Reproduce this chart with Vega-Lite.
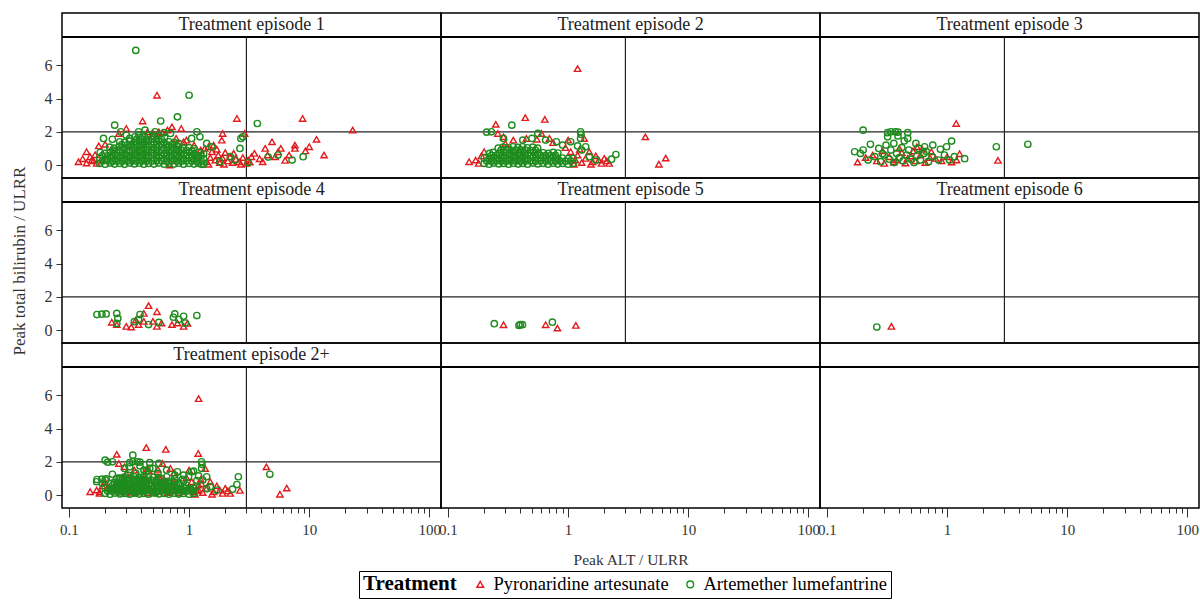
{
"$schema": "https://vega.github.io/schema/vega-lite/v6.json",
"padding": {"left": 10, "top": 12, "right": 2, "bottom": 2},
"data": {"values": [
{"a":"1","lab":"Treatment episode 1"},{"a":"2","lab":"Treatment episode 2"},{"a":"3","lab":"Treatment episode 3"},{"a":"4","lab":"Treatment episode 4"},{"a":"5","lab":"Treatment episode 5"},{"a":"6","lab":"Treatment episode 6"},{"a":"2+","lab":"Treatment episode 2+"},{"a":"b1","lab":""},{"a":"b2","lab":""},
{"t":"PA","a":"1","x":0.12,"y":0.2},{"t":"PA","a":"1","x":0.13,"y":0.38},{"t":"PA","a":"1","x":0.14,"y":0.12},{"t":"PA","a":"1","x":0.15,"y":0.5},{"t":"PA","a":"1","x":0.16,"y":0.25},{"t":"PA","a":"1","x":0.14,"y":0.8},{"t":"PA","a":"1","x":0.17,"y":0.1},{"t":"PA","a":"1","x":0.165,"y":0.62},{"t":"PA","a":"1","x":0.177,"y":1.15},{"t":"PA","a":"1","x":0.2,"y":1.25},{"t":"PA","a":"1","x":0.19,"y":0.3},{"t":"PA","a":"1","x":0.155,"y":0.3},
{"t":"PA","a":"1","x":1.4,"y":0.2},{"t":"PA","a":"1","x":1.5,"y":0.45},{"t":"PA","a":"1","x":1.55,"y":0.8},{"t":"PA","a":"1","x":1.65,"y":0.3},{"t":"PA","a":"1","x":1.75,"y":0.6},{"t":"PA","a":"1","x":1.8,"y":0.15},{"t":"PA","a":"1","x":1.9,"y":0.42},{"t":"PA","a":"1","x":2.0,"y":0.75},{"t":"PA","a":"1","x":2.1,"y":0.25},{"t":"PA","a":"1","x":2.2,"y":0.5},{"t":"PA","a":"1","x":2.3,"y":0.15},{"t":"PA","a":"1","x":2.45,"y":0.35},{"t":"PA","a":"1","x":2.6,"y":0.2},{"t":"PA","a":"1","x":2.8,"y":0.45},{"t":"PA","a":"1","x":3.0,"y":0.1},{"t":"PA","a":"1","x":1.25,"y":0.9},{"t":"PA","a":"1","x":1.35,"y":1.0},{"t":"PA","a":"1","x":1.45,"y":1.1},{"t":"PA","a":"1","x":1.6,"y":1.2},{"t":"PA","a":"1","x":1.7,"y":0.95},{"t":"PA","a":"1","x":1.45,"y":0.05},{"t":"PA","a":"1","x":1.95,"y":0.05},{"t":"PA","a":"1","x":2.35,"y":0.7},{"t":"PA","a":"1","x":2.7,"y":0.05},{"t":"PA","a":"1","x":3.1,"y":0.3},
{"t":"PA","a":"1","x":0.72,"y":2.3},{"t":"PA","a":"1","x":0.86,"y":2.2},{"t":"PA","a":"1","x":0.41,"y":2.65},{"t":"PA","a":"1","x":0.3,"y":2.2},{"t":"PA","a":"1","x":0.54,"y":4.2},{"t":"PA","a":"1","x":2.5,"y":2.8},{"t":"PA","a":"1","x":1.9,"y":1.9},{"t":"PA","a":"1","x":1.87,"y":1.5},{"t":"PA","a":"1","x":2.9,"y":1.9},{"t":"PA","a":"1","x":0.69,"y":0.0},{"t":"PA","a":"1","x":0.6,"y":1.95},{"t":"PA","a":"1","x":0.5,"y":1.9},{"t":"PA","a":"1","x":0.26,"y":1.9},{"t":"PA","a":"1","x":0.78,"y":1.6},{"t":"PA","a":"1","x":0.95,"y":1.5},{"t":"PA","a":"1","x":1.1,"y":1.2},{"t":"PA","a":"1","x":0.9,"y":1.4},{"t":"PA","a":"1","x":0.45,"y":2.0},{"t":"PA","a":"1","x":0.66,"y":2.1},{"t":"PA","a":"1","x":0.56,"y":2.0},
{"t":"PA","a":"1","x":23,"y":2.1},{"t":"PA","a":"1","x":8.8,"y":2.8},{"t":"PA","a":"1","x":11.5,"y":1.55},{"t":"PA","a":"1","x":13.3,"y":0.6},{"t":"PA","a":"1","x":7.6,"y":1.2},{"t":"PA","a":"1","x":7.6,"y":1.0},{"t":"PA","a":"1","x":6.3,"y":0.28},{"t":"PA","a":"1","x":4.9,"y":1.4},{"t":"PA","a":"1","x":5.8,"y":1.0},{"t":"PA","a":"1","x":4.3,"y":1.0},{"t":"PA","a":"1","x":4.5,"y":0.6},{"t":"PA","a":"1","x":5.2,"y":0.5},{"t":"PA","a":"1","x":3.86,"y":0.38},{"t":"PA","a":"1","x":3.2,"y":0.18},{"t":"PA","a":"1","x":3.5,"y":0.7},{"t":"PA","a":"1","x":6.8,"y":0.6},{"t":"PA","a":"1","x":10,"y":1.1},{"t":"PA","a":"1","x":3.3,"y":0.5},{"t":"PA","a":"1","x":4.1,"y":0.2},{"t":"PA","a":"1","x":5.5,"y":0.8},{"t":"PA","a":"1","x":9.3,"y":0.85},
{"t":"AL","a":"1","x":0.36,"y":6.9},{"t":"AL","a":"1","x":1.0,"y":4.2},{"t":"AL","a":"1","x":3.7,"y":2.5},{"t":"AL","a":"1","x":8.9,"y":0.5},{"t":"AL","a":"1","x":7.2,"y":0.3},{"t":"AL","a":"1","x":4.56,"y":0.48},{"t":"AL","a":"1","x":2.65,"y":1.0},{"t":"AL","a":"1","x":2.7,"y":1.6},{"t":"AL","a":"1","x":1.16,"y":2.0},{"t":"AL","a":"1","x":1.23,"y":1.7},{"t":"AL","a":"1","x":0.8,"y":2.9},{"t":"AL","a":"1","x":0.58,"y":2.65},{"t":"AL","a":"1","x":0.24,"y":2.4},{"t":"AL","a":"1","x":0.27,"y":2.0},{"t":"AL","a":"1","x":0.194,"y":1.6},{"t":"AL","a":"1","x":0.23,"y":1.55},{"t":"AL","a":"1","x":0.32,"y":1.6},{"t":"AL","a":"1","x":0.43,"y":2.1},{"t":"AL","a":"1","x":0.52,"y":2.0},{"t":"AL","a":"1","x":1.54,"y":1.09},{"t":"AL","a":"1","x":1.27,"y":0.04},{"t":"AL","a":"1","x":2.2,"y":0.5},{"t":"AL","a":"1","x":2.4,"y":0.3},{"t":"AL","a":"1","x":1.8,"y":0.2},{"t":"AL","a":"1","x":3.1,"y":0.15},{"t":"AL","a":"1","x":1.4,"y":1.3},{"t":"AL","a":"1","x":0.7,"y":1.9},{"t":"AL","a":"1","x":0.3,"y":1.8},{"t":"AL","a":"1","x":2.8,"y":1.7},{"t":"AL","a":"1","x":0.38,"y":2.0},{"t":"AL","a":"1","x":0.62,"y":1.95},{"t":"AL","a":"1","x":1.05,"y":1.6},{"t":"AL","a":"1","x":5.5,"y":0.6},
{"t":"AL","a":"1","x":0.18,"y":0.1},{"t":"AL","a":"1","x":0.18,"y":0.42},{"t":"AL","a":"1","x":0.182,"y":0.75},
{"t":"AL","a":"1","x":0.2,"y":0.05},{"t":"AL","a":"1","x":0.205,"y":0.38},{"t":"AL","a":"1","x":0.198,"y":0.7},
{"t":"AL","a":"1","x":0.22,"y":0.12},{"t":"AL","a":"1","x":0.22,"y":0.45},{"t":"AL","a":"1","x":0.222,"y":0.78},{"t":"AL","a":"1","x":0.218,"y":1.08},
{"t":"AL","a":"1","x":0.24,"y":0.06},{"t":"AL","a":"1","x":0.242,"y":0.36},{"t":"AL","a":"1","x":0.24,"y":0.7},{"t":"AL","a":"1","x":0.238,"y":1.02},
{"t":"AL","a":"1","x":0.265,"y":0.1},{"t":"AL","a":"1","x":0.265,"y":0.43},{"t":"AL","a":"1","x":0.268,"y":0.76},{"t":"AL","a":"1","x":0.262,"y":1.1},{"t":"AL","a":"1","x":0.265,"y":1.4},
{"t":"AL","a":"1","x":0.29,"y":0.04},{"t":"AL","a":"1","x":0.292,"y":0.38},{"t":"AL","a":"1","x":0.29,"y":0.7},{"t":"AL","a":"1","x":0.288,"y":1.04},{"t":"AL","a":"1","x":0.29,"y":1.36},
{"t":"AL","a":"1","x":0.32,"y":0.12},{"t":"AL","a":"1","x":0.318,"y":0.44},{"t":"AL","a":"1","x":0.32,"y":0.78},{"t":"AL","a":"1","x":0.323,"y":1.1},{"t":"AL","a":"1","x":0.32,"y":1.44},
{"t":"AL","a":"1","x":0.35,"y":0.07},{"t":"AL","a":"1","x":0.35,"y":0.4},{"t":"AL","a":"1","x":0.352,"y":0.72},{"t":"AL","a":"1","x":0.348,"y":1.05},{"t":"AL","a":"1","x":0.35,"y":1.38},{"t":"AL","a":"1","x":0.353,"y":1.7},
{"t":"AL","a":"1","x":0.385,"y":0.11},{"t":"AL","a":"1","x":0.383,"y":0.45},{"t":"AL","a":"1","x":0.385,"y":0.76},{"t":"AL","a":"1","x":0.388,"y":1.1},{"t":"AL","a":"1","x":0.385,"y":1.42},{"t":"AL","a":"1","x":0.382,"y":1.76},
{"t":"AL","a":"1","x":0.42,"y":0.05},{"t":"AL","a":"1","x":0.42,"y":0.37},{"t":"AL","a":"1","x":0.423,"y":0.7},{"t":"AL","a":"1","x":0.418,"y":1.03},{"t":"AL","a":"1","x":0.42,"y":1.36},{"t":"AL","a":"1","x":0.424,"y":1.7},
{"t":"AL","a":"1","x":0.46,"y":0.1},{"t":"AL","a":"1","x":0.46,"y":0.43},{"t":"AL","a":"1","x":0.458,"y":0.77},{"t":"AL","a":"1","x":0.462,"y":1.08},{"t":"AL","a":"1","x":0.46,"y":1.41},{"t":"AL","a":"1","x":0.457,"y":1.78},
{"t":"AL","a":"1","x":0.51,"y":0.06},{"t":"AL","a":"1","x":0.51,"y":0.39},{"t":"AL","a":"1","x":0.513,"y":0.72},{"t":"AL","a":"1","x":0.508,"y":1.05},{"t":"AL","a":"1","x":0.51,"y":1.38},{"t":"AL","a":"1","x":0.514,"y":1.72},
{"t":"AL","a":"1","x":0.56,"y":0.12},{"t":"AL","a":"1","x":0.56,"y":0.44},{"t":"AL","a":"1","x":0.557,"y":0.76},{"t":"AL","a":"1","x":0.562,"y":1.1},{"t":"AL","a":"1","x":0.56,"y":1.43},{"t":"AL","a":"1","x":0.558,"y":1.75},
{"t":"AL","a":"1","x":0.62,"y":0.05},{"t":"AL","a":"1","x":0.62,"y":0.38},{"t":"AL","a":"1","x":0.623,"y":0.7},{"t":"AL","a":"1","x":0.618,"y":1.04},{"t":"AL","a":"1","x":0.62,"y":1.37},{"t":"AL","a":"1","x":0.625,"y":1.68},
{"t":"AL","a":"1","x":0.68,"y":0.1},{"t":"AL","a":"1","x":0.68,"y":0.42},{"t":"AL","a":"1","x":0.683,"y":0.76},{"t":"AL","a":"1","x":0.678,"y":1.08},{"t":"AL","a":"1","x":0.68,"y":1.4},
{"t":"AL","a":"1","x":0.75,"y":0.06},{"t":"AL","a":"1","x":0.75,"y":0.38},{"t":"AL","a":"1","x":0.752,"y":0.72},{"t":"AL","a":"1","x":0.748,"y":1.04},{"t":"AL","a":"1","x":0.75,"y":1.36},
{"t":"AL","a":"1","x":0.82,"y":0.11},{"t":"AL","a":"1","x":0.82,"y":0.44},{"t":"AL","a":"1","x":0.823,"y":0.77},{"t":"AL","a":"1","x":0.818,"y":1.1},{"t":"AL","a":"1","x":0.82,"y":1.3},
{"t":"AL","a":"1","x":0.9,"y":0.05},{"t":"AL","a":"1","x":0.9,"y":0.38},{"t":"AL","a":"1","x":0.903,"y":0.7},{"t":"AL","a":"1","x":0.898,"y":1.02},
{"t":"AL","a":"1","x":1.0,"y":0.1},{"t":"AL","a":"1","x":1.0,"y":0.42},{"t":"AL","a":"1","x":1.003,"y":0.75},{"t":"AL","a":"1","x":0.997,"y":1.05},
{"t":"AL","a":"1","x":1.1,"y":0.06},{"t":"AL","a":"1","x":1.1,"y":0.38},{"t":"AL","a":"1","x":1.103,"y":0.7},{"t":"AL","a":"1","x":1.097,"y":0.98},
{"t":"AL","a":"1","x":1.2,"y":0.1},{"t":"AL","a":"1","x":1.2,"y":0.43},{"t":"AL","a":"1","x":1.203,"y":0.76},
{"t":"AL","a":"1","x":1.32,"y":0.05},{"t":"AL","a":"1","x":1.32,"y":0.38},{"t":"AL","a":"1","x":1.323,"y":0.68},
{"t":"AL","a":"1","x":0.19,"y":0.24},{"t":"AL","a":"1","x":0.19,"y":0.57},
{"t":"AL","a":"1","x":0.21,"y":0.26},{"t":"AL","a":"1","x":0.21,"y":0.55},
{"t":"AL","a":"1","x":0.23,"y":0.22},{"t":"AL","a":"1","x":0.23,"y":0.58},{"t":"AL","a":"1","x":0.232,"y":0.9},
{"t":"AL","a":"1","x":0.252,"y":0.25},{"t":"AL","a":"1","x":0.252,"y":0.56},{"t":"AL","a":"1","x":0.25,"y":0.88},
{"t":"AL","a":"1","x":0.277,"y":0.23},{"t":"AL","a":"1","x":0.277,"y":0.57},{"t":"AL","a":"1","x":0.279,"y":0.91},{"t":"AL","a":"1","x":0.275,"y":1.23},
{"t":"AL","a":"1","x":0.305,"y":0.25},{"t":"AL","a":"1","x":0.305,"y":0.56},{"t":"AL","a":"1","x":0.303,"y":0.9},{"t":"AL","a":"1","x":0.307,"y":1.22},
{"t":"AL","a":"1","x":0.335,"y":0.24},{"t":"AL","a":"1","x":0.335,"y":0.58},{"t":"AL","a":"1","x":0.337,"y":0.89},{"t":"AL","a":"1","x":0.333,"y":1.24},
{"t":"AL","a":"1","x":0.367,"y":0.23},{"t":"AL","a":"1","x":0.367,"y":0.57},{"t":"AL","a":"1","x":0.369,"y":0.9},{"t":"AL","a":"1","x":0.365,"y":1.23},{"t":"AL","a":"1","x":0.367,"y":1.56},
{"t":"AL","a":"1","x":0.402,"y":0.25},{"t":"AL","a":"1","x":0.402,"y":0.56},{"t":"AL","a":"1","x":0.4,"y":0.91},{"t":"AL","a":"1","x":0.404,"y":1.22},{"t":"AL","a":"1","x":0.402,"y":1.57},
{"t":"AL","a":"1","x":0.44,"y":0.24},{"t":"AL","a":"1","x":0.44,"y":0.58},{"t":"AL","a":"1","x":0.442,"y":0.89},{"t":"AL","a":"1","x":0.438,"y":1.24},{"t":"AL","a":"1","x":0.44,"y":1.55},
{"t":"AL","a":"1","x":0.485,"y":0.23},{"t":"AL","a":"1","x":0.485,"y":0.57},{"t":"AL","a":"1","x":0.487,"y":0.9},{"t":"AL","a":"1","x":0.483,"y":1.23},{"t":"AL","a":"1","x":0.485,"y":1.58},
{"t":"AL","a":"1","x":0.535,"y":0.25},{"t":"AL","a":"1","x":0.535,"y":0.56},{"t":"AL","a":"1","x":0.533,"y":0.9},{"t":"AL","a":"1","x":0.537,"y":1.22},{"t":"AL","a":"1","x":0.535,"y":1.56},
{"t":"AL","a":"1","x":0.59,"y":0.24},{"t":"AL","a":"1","x":0.59,"y":0.58},{"t":"AL","a":"1","x":0.592,"y":0.89},{"t":"AL","a":"1","x":0.588,"y":1.24},{"t":"AL","a":"1","x":0.59,"y":1.55},
{"t":"AL","a":"1","x":0.65,"y":0.23},{"t":"AL","a":"1","x":0.65,"y":0.57},{"t":"AL","a":"1","x":0.652,"y":0.9},{"t":"AL","a":"1","x":0.648,"y":1.23},
{"t":"AL","a":"1","x":0.715,"y":0.25},{"t":"AL","a":"1","x":0.715,"y":0.56},{"t":"AL","a":"1","x":0.713,"y":0.91},{"t":"AL","a":"1","x":0.717,"y":1.22},
{"t":"AL","a":"1","x":0.785,"y":0.24},{"t":"AL","a":"1","x":0.785,"y":0.58},{"t":"AL","a":"1","x":0.787,"y":0.9},{"t":"AL","a":"1","x":0.783,"y":1.2},
{"t":"AL","a":"1","x":0.86,"y":0.23},{"t":"AL","a":"1","x":0.86,"y":0.57},{"t":"AL","a":"1","x":0.862,"y":0.9},
{"t":"AL","a":"1","x":0.95,"y":0.25},{"t":"AL","a":"1","x":0.95,"y":0.56},{"t":"AL","a":"1","x":0.948,"y":0.88},
{"t":"AL","a":"1","x":1.05,"y":0.24},{"t":"AL","a":"1","x":1.05,"y":0.57},{"t":"AL","a":"1","x":1.052,"y":0.86},
{"t":"AL","a":"1","x":1.15,"y":0.23},{"t":"AL","a":"1","x":1.15,"y":0.56},
{"t":"AL","a":"1","x":1.26,"y":0.24},{"t":"AL","a":"1","x":1.26,"y":0.55},
{"t":"PA","a":"2","b":"2+","x":1.2,"y":5.8},{"t":"PA","a":"2","b":"2+","x":0.44,"y":2.85},{"t":"PA","a":"2","b":"2+","x":0.64,"y":2.75},{"t":"PA","a":"2","b":"2+","x":0.25,"y":2.45},{"t":"PA","a":"2","b":"2+","x":4.4,"y":1.7},{"t":"PA","a":"2","b":"2+","x":6.5,"y":0.42},{"t":"PA","a":"2","b":"2+","x":5.7,"y":0.05},{"t":"PA","a":"2","b":"2+","x":0.15,"y":0.2},{"t":"PA","a":"2","b":"2+","x":0.29,"y":1.7},{"t":"PA","a":"2","b":"2+","x":0.6,"y":1.9},{"t":"PA","a":"2","b":"2+","x":1.36,"y":1.6},{"t":"PA","a":"2","b":"2+","x":0.17,"y":0.3},{"t":"PA","a":"2","b":"2+","x":0.18,"y":0.1},{"t":"PA","a":"2","b":"2+","x":0.19,"y":0.55},{"t":"PA","a":"2","b":"2+","x":1.15,"y":0.3},{"t":"PA","a":"2","b":"2+","x":1.2,"y":0.6},{"t":"PA","a":"2","b":"2+","x":1.3,"y":0.15},{"t":"PA","a":"2","b":"2+","x":1.4,"y":0.4},{"t":"PA","a":"2","b":"2+","x":1.5,"y":0.8},{"t":"PA","a":"2","b":"2+","x":1.6,"y":0.2},{"t":"PA","a":"2","b":"2+","x":1.7,"y":0.55},{"t":"PA","a":"2","b":"2+","x":1.8,"y":0.3},{"t":"PA","a":"2","b":"2+","x":1.9,"y":0.1},{"t":"PA","a":"2","b":"2+","x":2.0,"y":0.4},{"t":"PA","a":"2","b":"2+","x":2.1,"y":0.25},{"t":"PA","a":"2","b":"2+","x":1.25,"y":0.95},{"t":"PA","a":"2","b":"2+","x":0.75,"y":1.35},{"t":"PA","a":"2","b":"2+","x":0.95,"y":1.05},{"t":"PA","a":"2","b":"2+","x":1.05,"y":0.8},{"t":"PA","a":"2","b":"2+","x":0.35,"y":1.5},{"t":"PA","a":"2","b":"2+","x":0.3,"y":1.3},{"t":"PA","a":"2","b":"2+","x":0.45,"y":1.6},{"t":"PA","a":"2","b":"2+","x":0.2,"y":0.8},{"t":"PA","a":"2","b":"2+","x":0.7,"y":1.6},{"t":"PA","a":"2","b":"2+","x":1.0,"y":1.5},{"t":"PA","a":"2","b":"2+","x":0.26,"y":1.9},{"t":"PA","a":"2","b":"2+","x":0.55,"y":1.55},{"t":"PA","a":"2","b":"2+","x":1.12,"y":0.05},{"t":"PA","a":"2","b":"2+","x":1.55,"y":0.05},{"t":"PA","a":"2","b":"2+","x":2.2,"y":0.1},
{"t":"AL","a":"2","b":"2+","x":0.34,"y":2.4},{"t":"AL","a":"2","b":"2+","x":0.23,"y":2.0},{"t":"AL","a":"2","b":"2+","x":0.21,"y":1.98},{"t":"AL","a":"2","b":"2+","x":1.27,"y":2.0},{"t":"AL","a":"2","b":"2+","x":0.29,"y":1.6},{"t":"AL","a":"2","b":"2+","x":0.42,"y":1.5},{"t":"AL","a":"2","b":"2+","x":0.56,"y":1.9},{"t":"AL","a":"2","b":"2+","x":0.8,"y":1.4},{"t":"AL","a":"2","b":"2+","x":1.05,"y":1.4},{"t":"AL","a":"2","b":"2+","x":1.27,"y":1.6},{"t":"AL","a":"2","b":"2+","x":2.5,"y":0.63},{"t":"AL","a":"2","b":"2+","x":1.3,"y":0.9},{"t":"AL","a":"2","b":"2+","x":1.5,"y":0.5},{"t":"AL","a":"2","b":"2+","x":1.2,"y":1.15},{"t":"AL","a":"2","b":"2+","x":0.65,"y":1.5},{"t":"AL","a":"2","b":"2+","x":0.5,"y":1.6},{"t":"AL","a":"2","b":"2+","x":1.7,"y":0.3},{"t":"AL","a":"2","b":"2+","x":2.3,"y":0.35},{"t":"AL","a":"2","b":"2+","x":0.9,"y":1.2},{"t":"AL","a":"2","b":"2+","x":1.4,"y":1.1},{"t":"AL","a":"2","b":"2+","x":1.28,"y":1.85},
{"t":"AL","a":"2","b":"2+","x":0.2,"y":0.1},{"t":"AL","a":"2","b":"2+","x":0.2,"y":0.42},
{"t":"AL","a":"2","b":"2+","x":0.22,"y":0.05},{"t":"AL","a":"2","b":"2+","x":0.22,"y":0.38},{"t":"AL","a":"2","b":"2+","x":0.222,"y":0.7},
{"t":"AL","a":"2","b":"2+","x":0.24,"y":0.12},{"t":"AL","a":"2","b":"2+","x":0.24,"y":0.44},{"t":"AL","a":"2","b":"2+","x":0.238,"y":0.76},
{"t":"AL","a":"2","b":"2+","x":0.265,"y":0.07},{"t":"AL","a":"2","b":"2+","x":0.265,"y":0.4},{"t":"AL","a":"2","b":"2+","x":0.268,"y":0.72},{"t":"AL","a":"2","b":"2+","x":0.262,"y":1.02},
{"t":"AL","a":"2","b":"2+","x":0.29,"y":0.1},{"t":"AL","a":"2","b":"2+","x":0.29,"y":0.43},{"t":"AL","a":"2","b":"2+","x":0.292,"y":0.76},{"t":"AL","a":"2","b":"2+","x":0.288,"y":1.08},
{"t":"AL","a":"2","b":"2+","x":0.32,"y":0.05},{"t":"AL","a":"2","b":"2+","x":0.32,"y":0.37},{"t":"AL","a":"2","b":"2+","x":0.322,"y":0.7},{"t":"AL","a":"2","b":"2+","x":0.318,"y":1.04},
{"t":"AL","a":"2","b":"2+","x":0.35,"y":0.11},{"t":"AL","a":"2","b":"2+","x":0.35,"y":0.44},{"t":"AL","a":"2","b":"2+","x":0.352,"y":0.77},{"t":"AL","a":"2","b":"2+","x":0.348,"y":1.1},
{"t":"AL","a":"2","b":"2+","x":0.385,"y":0.06},{"t":"AL","a":"2","b":"2+","x":0.385,"y":0.39},{"t":"AL","a":"2","b":"2+","x":0.388,"y":0.72},{"t":"AL","a":"2","b":"2+","x":0.383,"y":1.06},
{"t":"AL","a":"2","b":"2+","x":0.42,"y":0.1},{"t":"AL","a":"2","b":"2+","x":0.42,"y":0.43},{"t":"AL","a":"2","b":"2+","x":0.422,"y":0.75},{"t":"AL","a":"2","b":"2+","x":0.418,"y":1.1},
{"t":"AL","a":"2","b":"2+","x":0.46,"y":0.05},{"t":"AL","a":"2","b":"2+","x":0.46,"y":0.38},{"t":"AL","a":"2","b":"2+","x":0.463,"y":0.71},{"t":"AL","a":"2","b":"2+","x":0.457,"y":1.04},
{"t":"AL","a":"2","b":"2+","x":0.51,"y":0.12},{"t":"AL","a":"2","b":"2+","x":0.51,"y":0.44},{"t":"AL","a":"2","b":"2+","x":0.512,"y":0.77},{"t":"AL","a":"2","b":"2+","x":0.508,"y":1.08},
{"t":"AL","a":"2","b":"2+","x":0.56,"y":0.07},{"t":"AL","a":"2","b":"2+","x":0.56,"y":0.4},{"t":"AL","a":"2","b":"2+","x":0.562,"y":0.73},{"t":"AL","a":"2","b":"2+","x":0.558,"y":1.02},
{"t":"AL","a":"2","b":"2+","x":0.62,"y":0.1},{"t":"AL","a":"2","b":"2+","x":0.62,"y":0.42},{"t":"AL","a":"2","b":"2+","x":0.622,"y":0.74},
{"t":"AL","a":"2","b":"2+","x":0.68,"y":0.05},{"t":"AL","a":"2","b":"2+","x":0.68,"y":0.38},{"t":"AL","a":"2","b":"2+","x":0.682,"y":0.7},
{"t":"AL","a":"2","b":"2+","x":0.75,"y":0.11},{"t":"AL","a":"2","b":"2+","x":0.75,"y":0.44},{"t":"AL","a":"2","b":"2+","x":0.752,"y":0.76},
{"t":"AL","a":"2","b":"2+","x":0.82,"y":0.06},{"t":"AL","a":"2","b":"2+","x":0.82,"y":0.4},{"t":"AL","a":"2","b":"2+","x":0.822,"y":0.72},
{"t":"AL","a":"2","b":"2+","x":0.9,"y":0.1},{"t":"AL","a":"2","b":"2+","x":0.9,"y":0.42},
{"t":"AL","a":"2","b":"2+","x":1.0,"y":0.05},{"t":"AL","a":"2","b":"2+","x":1.0,"y":0.38},
{"t":"AL","a":"2","b":"2+","x":1.1,"y":0.1},{"t":"AL","a":"2","b":"2+","x":1.1,"y":0.4},
{"t":"AL","a":"2","b":"2+","x":0.21,"y":0.24},
{"t":"AL","a":"2","b":"2+","x":0.23,"y":0.23},{"t":"AL","a":"2","b":"2+","x":0.23,"y":0.57},
{"t":"AL","a":"2","b":"2+","x":0.252,"y":0.25},{"t":"AL","a":"2","b":"2+","x":0.252,"y":0.58},
{"t":"AL","a":"2","b":"2+","x":0.277,"y":0.24},{"t":"AL","a":"2","b":"2+","x":0.277,"y":0.56},{"t":"AL","a":"2","b":"2+","x":0.277,"y":0.9},
{"t":"AL","a":"2","b":"2+","x":0.305,"y":0.23},{"t":"AL","a":"2","b":"2+","x":0.305,"y":0.57},{"t":"AL","a":"2","b":"2+","x":0.305,"y":0.91},
{"t":"AL","a":"2","b":"2+","x":0.335,"y":0.25},{"t":"AL","a":"2","b":"2+","x":0.335,"y":0.58},{"t":"AL","a":"2","b":"2+","x":0.335,"y":0.89},
{"t":"AL","a":"2","b":"2+","x":0.367,"y":0.24},{"t":"AL","a":"2","b":"2+","x":0.367,"y":0.56},{"t":"AL","a":"2","b":"2+","x":0.367,"y":0.9},
{"t":"AL","a":"2","b":"2+","x":0.402,"y":0.23},{"t":"AL","a":"2","b":"2+","x":0.402,"y":0.57},{"t":"AL","a":"2","b":"2+","x":0.402,"y":0.91},
{"t":"AL","a":"2","b":"2+","x":0.44,"y":0.25},{"t":"AL","a":"2","b":"2+","x":0.44,"y":0.58},{"t":"AL","a":"2","b":"2+","x":0.44,"y":0.9},
{"t":"AL","a":"2","b":"2+","x":0.485,"y":0.24},{"t":"AL","a":"2","b":"2+","x":0.485,"y":0.56},{"t":"AL","a":"2","b":"2+","x":0.485,"y":0.89},
{"t":"AL","a":"2","b":"2+","x":0.535,"y":0.23},{"t":"AL","a":"2","b":"2+","x":0.535,"y":0.57},{"t":"AL","a":"2","b":"2+","x":0.535,"y":0.9},
{"t":"AL","a":"2","b":"2+","x":0.59,"y":0.25},{"t":"AL","a":"2","b":"2+","x":0.59,"y":0.58},
{"t":"AL","a":"2","b":"2+","x":0.65,"y":0.24},{"t":"AL","a":"2","b":"2+","x":0.65,"y":0.56},
{"t":"AL","a":"2","b":"2+","x":0.715,"y":0.23},{"t":"AL","a":"2","b":"2+","x":0.715,"y":0.57},
{"t":"AL","a":"2","b":"2+","x":0.785,"y":0.25},{"t":"AL","a":"2","b":"2+","x":0.785,"y":0.58},
{"t":"AL","a":"2","b":"2+","x":0.86,"y":0.24},{"t":"AL","a":"2","b":"2+","x":0.95,"y":0.23},{"t":"AL","a":"2","b":"2+","x":1.05,"y":0.25},
{"t":"PA","a":"3","b":"2+","x":1.19,"y":2.5},{"t":"PA","a":"3","b":"2+","x":0.18,"y":0.18},{"t":"PA","a":"3","b":"2+","x":0.56,"y":1.1},{"t":"PA","a":"3","b":"2+","x":1.27,"y":0.68},{"t":"PA","a":"3","b":"2+","x":2.65,"y":0.28},{"t":"PA","a":"3","b":"2+","x":0.24,"y":0.6},{"t":"PA","a":"3","b":"2+","x":0.36,"y":0.18},{"t":"PA","a":"3","b":"2+","x":0.47,"y":0.4},{"t":"PA","a":"3","b":"2+","x":0.8,"y":0.4},{"t":"PA","a":"3","b":"2+","x":1.09,"y":0.18},{"t":"PA","a":"3","b":"2+","x":0.4,"y":1.0},{"t":"PA","a":"3","b":"2+","x":0.21,"y":0.45},{"t":"PA","a":"3","b":"2+","x":0.26,"y":0.25},{"t":"PA","a":"3","b":"2+","x":0.3,"y":0.1},{"t":"PA","a":"3","b":"2+","x":0.33,"y":0.5},{"t":"PA","a":"3","b":"2+","x":0.38,"y":0.3},{"t":"PA","a":"3","b":"2+","x":0.42,"y":0.75},{"t":"PA","a":"3","b":"2+","x":0.45,"y":0.12},{"t":"PA","a":"3","b":"2+","x":0.5,"y":0.55},{"t":"PA","a":"3","b":"2+","x":0.55,"y":0.25},{"t":"PA","a":"3","b":"2+","x":0.6,"y":0.6},{"t":"PA","a":"3","b":"2+","x":0.66,"y":0.15},{"t":"PA","a":"3","b":"2+","x":0.72,"y":0.45},{"t":"PA","a":"3","b":"2+","x":0.9,"y":0.25},{"t":"PA","a":"3","b":"2+","x":1.0,"y":0.5},{"t":"PA","a":"3","b":"2+","x":1.2,"y":0.3},{"t":"PA","a":"3","b":"2+","x":0.29,"y":0.85},{"t":"PA","a":"3","b":"2+","x":0.52,"y":0.85},{"t":"PA","a":"3","b":"2+","x":0.62,"y":0.95},{"t":"PA","a":"3","b":"2+","x":0.74,"y":0.8},
{"t":"AL","a":"3","b":"2+","x":0.2,"y":2.1},{"t":"AL","a":"3","b":"2+","x":0.32,"y":1.95},{"t":"AL","a":"3","b":"2+","x":0.34,"y":2.0},{"t":"AL","a":"3","b":"2+","x":0.37,"y":2.0},{"t":"AL","a":"3","b":"2+","x":0.39,"y":1.98},{"t":"AL","a":"3","b":"2+","x":0.47,"y":1.95},{"t":"AL","a":"3","b":"2+","x":0.47,"y":1.6},{"t":"AL","a":"3","b":"2+","x":0.23,"y":1.25},{"t":"AL","a":"3","b":"2+","x":0.31,"y":1.2},{"t":"AL","a":"3","b":"2+","x":0.76,"y":1.2},{"t":"AL","a":"3","b":"2+","x":1.09,"y":1.44},{"t":"AL","a":"3","b":"2+","x":0.99,"y":1.1},{"t":"AL","a":"3","b":"2+","x":0.17,"y":0.8},{"t":"AL","a":"3","b":"2+","x":0.19,"y":0.7},{"t":"AL","a":"3","b":"2+","x":1.4,"y":0.38},{"t":"AL","a":"3","b":"2+","x":0.67,"y":0.83},{"t":"AL","a":"3","b":"2+","x":0.29,"y":0.68},{"t":"AL","a":"3","b":"2+","x":2.57,"y":1.1},{"t":"AL","a":"3","b":"2+","x":4.7,"y":1.25},{"t":"AL","a":"3","b":"2+","x":0.22,"y":0.3},{"t":"AL","a":"3","b":"2+","x":0.25,"y":0.5},{"t":"AL","a":"3","b":"2+","x":0.28,"y":0.2},{"t":"AL","a":"3","b":"2+","x":0.3,"y":0.6},{"t":"AL","a":"3","b":"2+","x":0.33,"y":0.35},{"t":"AL","a":"3","b":"2+","x":0.36,"y":0.15},{"t":"AL","a":"3","b":"2+","x":0.38,"y":0.7},{"t":"AL","a":"3","b":"2+","x":0.4,"y":0.45},{"t":"AL","a":"3","b":"2+","x":0.43,"y":0.25},{"t":"AL","a":"3","b":"2+","x":0.46,"y":0.6},{"t":"AL","a":"3","b":"2+","x":0.5,"y":0.35},{"t":"AL","a":"3","b":"2+","x":0.53,"y":0.15},{"t":"AL","a":"3","b":"2+","x":0.56,"y":0.55},{"t":"AL","a":"3","b":"2+","x":0.6,"y":0.3},{"t":"AL","a":"3","b":"2+","x":0.64,"y":0.7},{"t":"AL","a":"3","b":"2+","x":0.7,"y":0.2},{"t":"AL","a":"3","b":"2+","x":0.75,"y":0.5},{"t":"AL","a":"3","b":"2+","x":0.85,"y":0.3},{"t":"AL","a":"3","b":"2+","x":0.95,"y":0.6},{"t":"AL","a":"3","b":"2+","x":1.05,"y":0.3},{"t":"AL","a":"3","b":"2+","x":1.15,"y":0.5},{"t":"AL","a":"3","b":"2+","x":0.2,"y":0.9},{"t":"AL","a":"3","b":"2+","x":0.27,"y":1.0},{"t":"AL","a":"3","b":"2+","x":0.34,"y":0.9},{"t":"AL","a":"3","b":"2+","x":0.42,"y":1.05},{"t":"AL","a":"3","b":"2+","x":0.48,"y":0.9},{"t":"AL","a":"3","b":"2+","x":0.58,"y":1.0},{"t":"AL","a":"3","b":"2+","x":0.65,"y":1.1},{"t":"AL","a":"3","b":"2+","x":0.36,"y":1.3},{"t":"AL","a":"3","b":"2+","x":0.44,"y":1.45},{"t":"AL","a":"3","b":"2+","x":0.32,"y":1.7},{"t":"AL","a":"3","b":"2+","x":0.39,"y":1.75},{"t":"AL","a":"3","b":"2+","x":0.88,"y":0.95},{"t":"AL","a":"3","b":"2+","x":0.55,"y":1.3},
{"t":"PA","a":"4","b":"2+","x":0.46,"y":1.47},{"t":"PA","a":"4","b":"2+","x":0.227,"y":0.47},{"t":"PA","a":"4","b":"2+","x":0.25,"y":0.33},{"t":"PA","a":"4","b":"2+","x":0.3,"y":0.22},{"t":"PA","a":"4","b":"2+","x":0.33,"y":0.18},{"t":"PA","a":"4","b":"2+","x":0.38,"y":0.33},{"t":"PA","a":"4","b":"2+","x":0.42,"y":0.52},{"t":"PA","a":"4","b":"2+","x":0.5,"y":0.52},{"t":"PA","a":"4","b":"2+","x":0.54,"y":0.22},{"t":"PA","a":"4","b":"2+","x":0.59,"y":0.42},{"t":"PA","a":"4","b":"2+","x":0.72,"y":0.33},{"t":"PA","a":"4","b":"2+","x":0.8,"y":0.42},{"t":"PA","a":"4","b":"2+","x":0.9,"y":0.22},{"t":"PA","a":"4","b":"2+","x":0.97,"y":0.4},{"t":"PA","a":"4","b":"2+","x":0.54,"y":1.1},{"t":"PA","a":"4","b":"2+","x":0.42,"y":1.0},{"t":"PA","a":"4","b":"2+","x":0.36,"y":0.6},
{"t":"AL","a":"4","b":"2+","x":0.171,"y":0.93},{"t":"AL","a":"4","b":"2+","x":0.188,"y":0.96},{"t":"AL","a":"4","b":"2+","x":0.204,"y":0.97},{"t":"AL","a":"4","b":"2+","x":0.25,"y":1.0},{"t":"AL","a":"4","b":"2+","x":0.255,"y":0.7},{"t":"AL","a":"4","b":"2+","x":0.39,"y":0.93},{"t":"AL","a":"4","b":"2+","x":0.38,"y":0.63},{"t":"AL","a":"4","b":"2+","x":0.76,"y":0.97},{"t":"AL","a":"4","b":"2+","x":0.74,"y":0.77},{"t":"AL","a":"4","b":"2+","x":0.82,"y":0.63},{"t":"AL","a":"4","b":"2+","x":0.9,"y":0.83},{"t":"AL","a":"4","b":"2+","x":1.16,"y":0.87},{"t":"AL","a":"4","b":"2+","x":0.56,"y":0.46},{"t":"AL","a":"4","b":"2+","x":0.46,"y":0.33},{"t":"AL","a":"4","b":"2+","x":0.25,"y":0.4},{"t":"AL","a":"4","b":"2+","x":0.35,"y":0.5},{"t":"AL","a":"4","b":"2+","x":0.93,"y":0.42},
{"t":"PA","a":"5","b":"2+","x":0.29,"y":0.32},{"t":"PA","a":"5","b":"2+","x":0.65,"y":0.32},{"t":"PA","a":"5","b":"2+","x":0.815,"y":0.12},{"t":"PA","a":"5","b":"2+","x":1.16,"y":0.28},
{"t":"AL","a":"5","b":"2+","x":0.243,"y":0.38},{"t":"AL","a":"5","b":"2+","x":0.39,"y":0.28},{"t":"AL","a":"5","b":"2+","x":0.4,"y":0.33},{"t":"AL","a":"5","b":"2+","x":0.417,"y":0.32},{"t":"AL","a":"5","b":"2+","x":0.74,"y":0.47},
{"t":"PA","a":"6","b":"2+","x":0.344,"y":0.22},
{"t":"AL","a":"6","b":"2+","x":0.26,"y":0.18}
]},
"transform": [
  {"fold": ["a", "b"], "as": ["k", "p"]},
  {"filter": "isValid(datum.p)"},
  {"lookup": "p", "from": {"data": {"values": [
    {"p":"1","r":1,"c":1},{"p":"2","r":1,"c":2},{"p":"3","r":1,"c":3},
    {"p":"4","r":2,"c":1},{"p":"5","r":2,"c":2},{"p":"6","r":2,"c":3},
    {"p":"2+","r":3,"c":1},{"p":"b1","r":3,"c":2},{"p":"b2","r":3,"c":3}]}, "key": "p", "fields": ["r", "c"]}}
],
"facet": {
  "row": {"field": "r", "type": "ordinal", "header": {"labels": false, "title": "Peak total bilirubin / ULRR", "titleFontSize": 17, "titleFontWeight": "normal", "titleColor": "#333", "titlePadding": 5, "titleFont": "Liberation Serif"}},
  "column": {"field": "c", "type": "ordinal", "header": {"labels": false, "title": "Peak ALT / ULRR", "titleOrient": "bottom", "titleFontSize": 15.5, "titleFontWeight": "normal", "titleColor": "#333", "titlePadding": 6, "titleFont": "Liberation Serif"}}
},
"spacing": {"row": 0, "column": 0},
"bounds": "flush",
"spec": {
  "width": 379,
  "height": 165,
  "layer": [
    {"transform": [{"filter": "isValid(datum.lab)"}], "mark": {"type": "rule", "color": "#000", "strokeWidth": 2}, "encoding": {"y": {"datum": 7.7}}},
    {"transform": [{"filter": "datum.lab"}], "mark": {"type": "rule", "color": "#222", "strokeWidth": 1.2}, "encoding": {"x": {"datum": 3}, "y": {"datum": 7.7}, "y2": {"datum": -0.78}}},
    {"transform": [{"filter": "datum.lab"}], "mark": {"type": "rule", "color": "#222", "strokeWidth": 1.2}, "encoding": {"y": {"datum": 2}}},
    {"transform": [{"filter": "isValid(datum.lab)"}], "mark": {"type": "text", "fontSize": 18, "color": "#222", "baseline": "middle", "font": "Liberation Serif"}, "encoding": {"x": {"datum": 3.31}, "y": {"datum": 8.42}, "text": {"field": "lab"}}},
    {"transform": [{"filter": "isValid(datum.t)"}], "mark": {"type": "point", "filled": false, "size": 40, "strokeWidth": 1.4, "opacity": 1},
     "encoding": {
       "x": {"field": "x", "type": "quantitative", "scale": {"type": "log", "domain": [0.0875, 125], "nice": false},
             "axis": {"title": null, "values": [0.1,0.2,0.3,0.4,0.5,0.6,0.7,0.8,0.9,1,2,3,4,5,6,7,8,9,10,20,30,40,50,60,70,80,90,100],
                      "labelExpr": "datum.value==0.1?'0.1':datum.value==1?'1':datum.value==10?'10':datum.value==100?'100':''",
                      "tickSize": {"condition": {"test": "datum.value==0.1||datum.value==1||datum.value==10||datum.value==100", "value": 9}, "value": 5},
                      "grid": false, "domain": false, "labelOverlap": false, "labelFlush": false, "labelFontSize": 15, "labelPadding": 5, "labelFont": "Liberation Serif",
                      "tickColor": "#333", "labelColor": "#333"}},
       "y": {"field": "y", "type": "quantitative", "scale": {"domain": [-0.78, 9.15], "nice": false, "zero": false},
             "axis": {"title": null, "values": [0, 2, 4, 6], "grid": false, "domain": false, "labelFontSize": 16, "tickSize": 6, "labelPadding": 4, "labelFont": "Liberation Serif",
                      "tickColor": "#333", "labelColor": "#333"}},
       "order": {"field": "t", "sort": "descending"},
       "color": {"field": "t", "type": "nominal", "scale": {"domain": ["PA", "AL"], "range": ["#e31a1c", "#1e8c1e"]},
                 "legend": {"title": "Treatment", "orient": "none", "legendX": 297, "legendY": 558, "direction": "horizontal", "titleOrient": "left", "labelExpr": "datum.value=='PA'?'Pyronaridine artesunate':'Artemether lumefantrine'", "strokeColor": "#000", "padding": 4, "titleFontSize": 21, "titleFontWeight": "bold", "labelFontSize": 18.5, "symbolSize": 45, "symbolStrokeWidth": 1.4, "labelLimit": 300, "titlePadding": 14, "columnPadding": 12, "titleFont": "Liberation Serif", "labelFont": "Liberation Serif"}},
       "shape": {"field": "t", "type": "nominal", "scale": {"domain": ["PA", "AL"], "range": ["triangle-up", "circle"]},
                 "legend": {"title": "Treatment", "orient": "none", "legendX": 297, "legendY": 558, "direction": "horizontal", "titleOrient": "left", "labelExpr": "datum.value=='PA'?'Pyronaridine artesunate':'Artemether lumefantrine'", "strokeColor": "#000", "padding": 4, "titleFontSize": 21, "titleFontWeight": "bold", "labelFontSize": 18.5, "symbolSize": 45, "symbolStrokeWidth": 1.4, "labelLimit": 300, "titlePadding": 14, "columnPadding": 12, "titleFont": "Liberation Serif", "labelFont": "Liberation Serif"}}
     }}
  ]
},
"config": {
  "font": "Liberation Serif",
  "view": {"stroke": "#000", "strokeWidth": 1.5},
  "axis": {"labelFont": "Liberation Serif", "titleFont": "Liberation Serif"},
  "header": {"labelFont": "Liberation Serif", "titleFont": "Liberation Serif"},
  "text": {"font": "Liberation Serif"},
  "legend": {"titleFont": "Liberation Serif", "labelFont": "Liberation Serif"}
}
}
